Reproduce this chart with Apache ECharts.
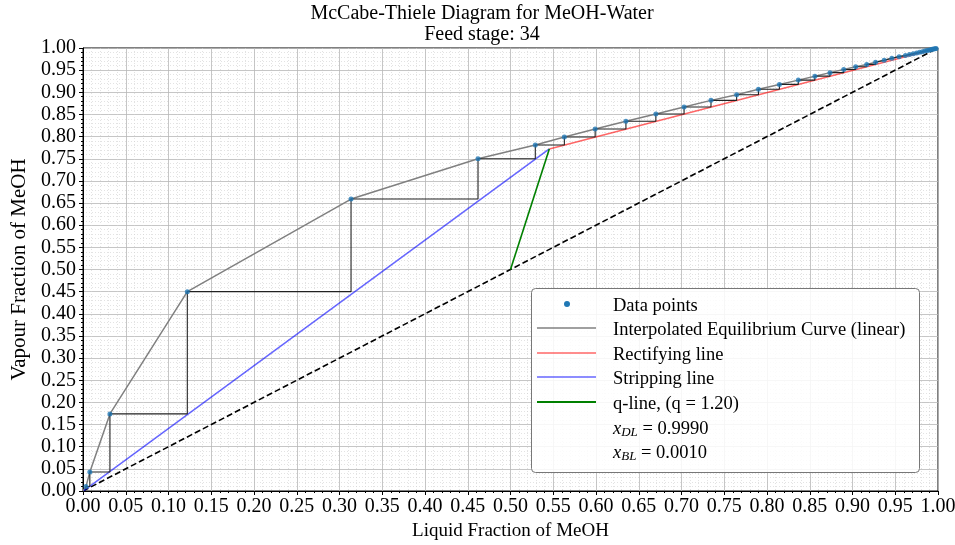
<!DOCTYPE html>
<html>
<head>
<meta charset="utf-8">
<script src="https://cdn.jsdelivr.net/npm/echarts@6/dist/echarts.min.js"></script>
<style>html,body{margin:0;padding:0;background:#fff}#c{width:955px;height:545px}</style>
</head>
<body>
<div id="c"></div>
<script>
// ---- values ----
const titleLines = ['McCabe-Thiele Diagram for MeOH-Water', 'Feed stage: 34'];
const xLabel = 'Liquid Fraction of MeOH';
const yLabel = 'Vapour Fraction of MeOH';
const xD = 0.999;
const xB = 0.001;
const zF = 0.5;
const qValue = 1.20;
const intersection = [0.5454, 0.7722];
// equilibrium stage points (top stage first)
const stageX = [0.9978,0.9964,0.9949,0.9932,0.9914,0.9893,0.9870,0.9845,0.9816,0.9785,
                0.9750,0.9711,0.9667,0.9619,0.9545,0.9460,0.9370,0.9270,0.9166,0.9037,
                0.8897,0.8737,0.8560,0.8366,0.8145,0.7900,0.7645,0.7345,0.7030,0.6700,
                0.6350,0.5990,0.5630,0.5290,0.4620,0.3135,0.1220,0.0315,0.0080,0.0035];
const stageY = [0.9990,0.9984,0.9977,0.9970,0.9961,0.9952,0.9942,0.9930,0.9918,0.9903,
                0.9888,0.9870,0.9851,0.9829,0.9805,0.9768,0.9725,0.9680,0.9630,0.9578,
                0.9514,0.9444,0.9364,0.9275,0.9178,0.9068,0.8945,0.8818,0.8668,0.8510,
                0.8345,0.8170,0.7990,0.7810,0.7500,0.6590,0.4500,0.1740,0.0430,0.0100];
const lastDropY = 0.0045;
const legendLabels = ['Data points', 'Interpolated Equilibrium Curve (linear)', 'Rectifying line',
                      'Stripping line', 'q-line, (q = 1.20)'];
const legendXDL = '0.9990';
const legendXBL = '0.0010';

// ---- build series data ----
const eqCurve = [[0, 0]];
for (let i = stageX.length - 1; i >= 0; i--) eqCurve.push([stageX[i], stageY[i]]);
eqCurve.push([1, 1]);

const steps = [[xD, xD]];
for (let i = 0; i < stageX.length; i++) {
  steps.push([stageX[i], stageY[i]]);
  const nextY = i + 1 < stageY.length ? stageY[i + 1] : lastDropY;
  steps.push([stageX[i], nextY]);
}
const dots = stageX.map((x, i) => [x, stageY[i]]);

const serif = 'Liberation Serif';
const chart = echarts.init(document.getElementById('c'), null, {renderer: 'canvas'});

const legendRows = [306, 330, 355, 379, 404, 429, 453];
const handleX0 = 537, handleX1 = 596, textX = 613;
const legendColors = ['#1f77b4', '#808080', 'rgba(255,0,0,0.6)', 'rgba(0,0,255,0.6)', '#008000'];
const legendGraphics = [
  {type: 'rect', left: 531, top: 288, shape: {width: 388, height: 184, r: 4},
   style: {fill: 'rgba(255,255,255,0.85)', stroke: '#777', lineWidth: 1}, z: 100}
];
legendGraphics.push({type: 'circle', shape: {cx: 567, cy: legendRows[0] - 2, r: 3}, style: {fill: legendColors[0]}, z: 101});
for (let i = 1; i < 5; i++) {
  legendGraphics.push({type: 'line', shape: {x1: handleX0, y1: legendRows[i] - 2, x2: handleX1, y2: legendRows[i] - 2},
    style: {stroke: legendColors[i], lineWidth: i === 4 ? 1.8 : 1.5}, z: 101});
}
for (let i = 0; i < 5; i++) {
  legendGraphics.push({type: 'text', x: textX, y: legendRows[i], z: 101,
    style: {text: legendLabels[i], font: '18.5px "' + serif + '"', fill: '#000', verticalAlign: 'middle'}});
}
const richSub = {
  i: {fontFamily: serif, fontStyle: 'italic', fontSize: 18.5, fill: '#000'},
  s: {fontFamily: serif, fontStyle: 'italic', fontSize: 13, fill: '#000', padding: [8, 0, 0, 0]},
  n: {fontFamily: serif, fontSize: 18.5, fill: '#000'}
};
legendGraphics.push({type: 'text', x: textX, y: legendRows[5], z: 101,
  style: {text: '{i|x}{s|DL}{n| = ' + legendXDL + '}', rich: richSub, verticalAlign: 'middle'}});
legendGraphics.push({type: 'text', x: textX, y: legendRows[6], z: 101,
  style: {text: '{i|x}{s|BL}{n| = ' + legendXBL + '}', rich: richSub, verticalAlign: 'middle'}});

const option = {
  animation: false,
  backgroundColor: '#fff',
  title: [
    {text: titleLines[0], left: 477, top: -1, textAlign: 'center',
     textStyle: {fontFamily: serif, fontWeight: 'normal', fontSize: 20, color: '#000'}},
    {text: titleLines[1], left: 477, top: 20, textAlign: 'center',
     textStyle: {fontFamily: serif, fontWeight: 'normal', fontSize: 20, color: '#000'}}
  ],
  grid: {left: 83, right: 17, top: 48, bottom: 54, show: true, borderColor: '#000', borderWidth: 1,
         containLabel: false, outerBoundsMode: 'none'},
  xAxis: {
    type: 'value', min: 0, max: 1, interval: 0.05,
    name: xLabel, nameLocation: 'middle', nameGap: 31,
    nameTextStyle: {fontFamily: serif, fontSize: 19, color: '#000'},
    axisLine: {show: true, lineStyle: {color: '#000', width: 1}},
    axisTick: {show: true, length: 4, lineStyle: {color: '#000'}},
    minorTick: {show: true, splitNumber: 5, length: 2, lineStyle: {color: '#000'}},
    axisLabel: {fontFamily: serif, fontSize: 20, color: '#000', margin: 6, formatter: v => v.toFixed(2)},
    splitLine: {show: true, lineStyle: {color: '#b8b8b8', width: 0.8}},
    minorSplitLine: {show: true, lineStyle: {color: '#d0d0d0', width: 0.6, type: [1, 2]}}
  },
  yAxis: {
    type: 'value', min: 0, max: 1, interval: 0.05,
    name: yLabel, nameLocation: 'middle', nameGap: 52, nameRotate: 90,
    nameTextStyle: {fontFamily: serif, fontSize: 21, color: '#000'},
    axisLine: {show: true, lineStyle: {color: '#000', width: 1}},
    axisTick: {show: true, length: 4, lineStyle: {color: '#000'}},
    minorTick: {show: true, splitNumber: 5, length: 2, lineStyle: {color: '#000'}},
    axisLabel: {fontFamily: serif, fontSize: 20, color: '#000', margin: 7, formatter: v => v.toFixed(2)},
    splitLine: {show: true, lineStyle: {color: '#b8b8b8', width: 0.8}},
    minorSplitLine: {show: true, lineStyle: {color: '#d0d0d0', width: 0.6, type: [1, 2]}}
  },
  series: [
    {name: 'diag', type: 'line', data: [[0, 0], [1, 1]], symbol: 'none',
     lineStyle: {color: '#000', width: 1.6, type: [6, 3]}, z: 3},
    {name: 'eq', type: 'line', data: eqCurve, symbol: 'none',
     lineStyle: {color: '#808080', width: 1.5}, z: 4},
    {name: 'rect', type: 'line', data: [[xD, xD], intersection], symbol: 'none',
     lineStyle: {color: 'rgba(255,0,0,0.6)', width: 1.5}, z: 5},
    {name: 'strip', type: 'line', data: [[xB, xB], intersection], symbol: 'none',
     lineStyle: {color: 'rgba(0,0,255,0.6)', width: 1.5}, z: 5},
    {name: 'q', type: 'line', data: [[zF, zF], intersection], symbol: 'none',
     lineStyle: {color: '#008000', width: 1.6}, z: 5},
    {name: 'steps', type: 'line', data: steps, symbol: 'none',
     lineStyle: {color: '#222', width: 1.1}, z: 6},
    {name: 'points', type: 'scatter', data: dots, symbol: 'circle', symbolSize: 5,
     itemStyle: {color: '#1f77b4'}, z: 7}
  ],
  graphic: legendGraphics
};
chart.setOption(option);
</script>
</body>
</html>
